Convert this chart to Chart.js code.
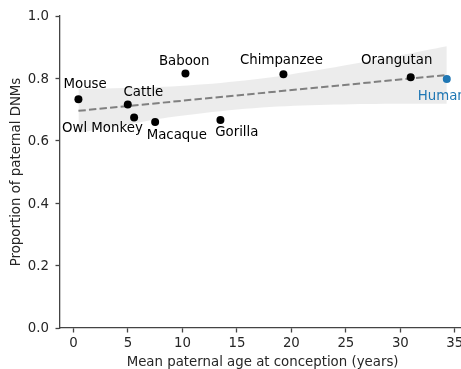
<!DOCTYPE html>
<html>
<head>
<meta charset="utf-8">
<script src="https://cdn.jsdelivr.net/npm/chart.js@4"></script>
<style>
  html, body { margin: 0; padding: 0; background: #fff; overflow: hidden; }
  #wrap { width: 461px; height: 369px; overflow: hidden; }
  canvas { display: block; }
</style>
</head>
<body>
<div id="wrap"><canvas id="c" width="500" height="369"></canvas></div>
<script>
// Species, mean paternal age at conception (years) and share of paternal de novo mutations
const species = ['Mouse', 'Cattle', 'Owl Monkey', 'Macaque', 'Baboon', 'Gorilla', 'Chimpanzee', 'Orangutan', 'Human'];
const paternalAge = [0.46, 4.99, 5.57, 7.5, 10.28, 13.49, 19.27, 30.95, 34.26];
const paternalFraction = [0.733, 0.716, 0.675, 0.660, 0.816, 0.667, 0.813, 0.804, 0.798];

// Linear fit endpoints
const fitAge = [0.46, 34.26];
const fitFraction = [0.696, 0.811];

// Confidence band of the fit
const bandAge = [0.46, 3, 6, 9, 12, 15, 18, 21, 24, 27, 30, 34.26];
const bandUpper = [0.767, 0.768, 0.770, 0.774, 0.781, 0.791, 0.803, 0.819, 0.836, 0.855, 0.874, 0.903];
const bandLower = [0.625, 0.641, 0.659, 0.676, 0.689, 0.700, 0.708, 0.713, 0.716, 0.718, 0.719, 0.719];

// Axis ticks
const xTicks = [0, 5, 10, 15, 20, 25, 30, 35];
const xTickLabels = ['0', '5', '10', '15', '20', '25', '30', '35'];
const yTicks = [0, 0.2, 0.4, 0.6, 0.8, 1.0];
const yTickLabels = ['0.0', '0.2', '0.4', '0.6', '0.8', '1.0'];

const highlight = 'Human';
const FONT = 'DejaVu Sans';
const INK = '#262626';
const BLUE = '#1f77b4';
const SPINE = '#444444';

// Label placement around each marker (pixel offsets of the text centre)
const labelOffsets = {
  'Mouse': [6.7, -15], 'Cattle': [15.6, -12.4], 'Owl Monkey': [-31.7, 11.4],
  'Macaque': [21.7, 13], 'Baboon': [-1.3, -12], 'Gorilla': [16.4, 12.7],
  'Chimpanzee': [-2, -13.6], 'Orangutan': [-14, -16.3], 'Human': [-5, 17.7]
};

const pts = (xs, ys) => xs.map((x, i) => ({ x, y: ys[i] }));
const others = species.map((s, i) => i).filter(i => species[i] !== highlight);
const hi = species.indexOf(highlight);

const labelPlugin = {
  id: 'speciesLabels',
  afterDatasetsDraw(chart) {
    const ctx = chart.ctx;
    const xs = chart.scales.x, ys = chart.scales.y;
    ctx.save();
    ctx.font = '13.33px "' + FONT + '"';
    ctx.textAlign = 'center';
    ctx.textBaseline = 'middle';
    species.forEach((name, i) => {
      const off = labelOffsets[name] || [0, -14];
      const px = xs.getPixelForValue(paternalAge[i]);
      const py = ys.getPixelForValue(paternalFraction[i]);
      ctx.fillStyle = name === highlight ? BLUE : '#000';
      ctx.fillText(name, px + off[0], py + off[1]);
    });
    ctx.restore();
  }
};

new Chart(document.getElementById('c'), {
  type: 'scatter',
  data: {
    datasets: [
      {
        data: pts(others.map(i => paternalAge[i]), others.map(i => paternalFraction[i])),
        backgroundColor: '#000', borderColor: '#000', pointRadius: 4, borderWidth: 0, order: 0
      },
      {
        data: pts([paternalAge[hi]], [paternalFraction[hi]]),
        backgroundColor: BLUE, borderColor: BLUE, pointRadius: 4, borderWidth: 0, order: 0
      },
      {
        type: 'line', data: pts(fitAge, fitFraction),
        borderColor: '#808080', borderWidth: 2, borderDash: [7.4, 3.2],
        pointRadius: 0, fill: false, order: 1
      },
      {
        type: 'line', data: pts(bandAge, bandUpper),
        borderWidth: 0, borderColor: 'rgba(0,0,0,0)', pointRadius: 0, tension: 0.3,
        fill: '+1', backgroundColor: 'rgba(128,128,128,0.15)', order: 2
      },
      {
        type: 'line', data: pts(bandAge, bandLower),
        borderWidth: 0, borderColor: 'rgba(0,0,0,0)', pointRadius: 0, tension: 0.3,
        fill: false, order: 2
      }
    ]
  },
  options: {
    responsive: false,
    animation: false,
    devicePixelRatio: 1,
    layout: { padding: { left: 0, top: 16, right: 34.8, bottom: 0 } },
    plugins: { legend: { display: false }, tooltip: { enabled: false } },
    scales: {
      x: {
        type: 'linear', min: -1.23, max: 35.95,
        afterBuildTicks: s => { s.ticks = xTicks.map(v => ({ value: v })); },
        afterFit: s => { s.height = 41; s.paddingLeft = 0; s.paddingRight = 0; },
        border: { display: true, color: SPINE, width: 1.3 },
        grid: { display: true, drawOnChartArea: false, drawTicks: true, tickLength: 4.5, tickWidth: 1.3, tickColor: SPINE },
        ticks: {
          padding: 3, color: INK, maxRotation: 0, autoSkip: false,
          font: { family: FONT, size: 13.33 },
          callback: v => xTickLabels[xTicks.indexOf(v)]
        },
        title: {
          display: true, text: 'Mean paternal age at conception (years)', color: INK,
          font: { family: FONT, size: 13.33 }, padding: { top: 0, bottom: -1.5 }
        }
      },
      y: {
        type: 'linear', min: 0, max: 1,
        afterBuildTicks: s => { s.ticks = yTicks.map(v => ({ value: v })); },
        afterFit: s => { s.width = 60; s.paddingTop = 0; s.paddingBottom = 0; },
        border: { display: true, color: SPINE, width: 1.3 },
        grid: { display: true, drawOnChartArea: false, drawTicks: true, tickLength: 4.5, tickWidth: 1.3, tickColor: SPINE },
        ticks: {
          padding: 6.5, color: INK, autoSkip: false, labelOffset: 1,
          font: { family: FONT, size: 13.33 },
          callback: v => yTickLabels[yTicks.findIndex(t => Math.abs(t - v) < 1e-9)]
        },
        title: {
          display: true, text: 'Proportion of paternal DNMs', color: INK,
          font: { family: FONT, size: 13.33 }, padding: { top: 9, bottom: 0 }
        }
      }
    }
  },
  plugins: [labelPlugin]
});
</script>
</body>
</html>
